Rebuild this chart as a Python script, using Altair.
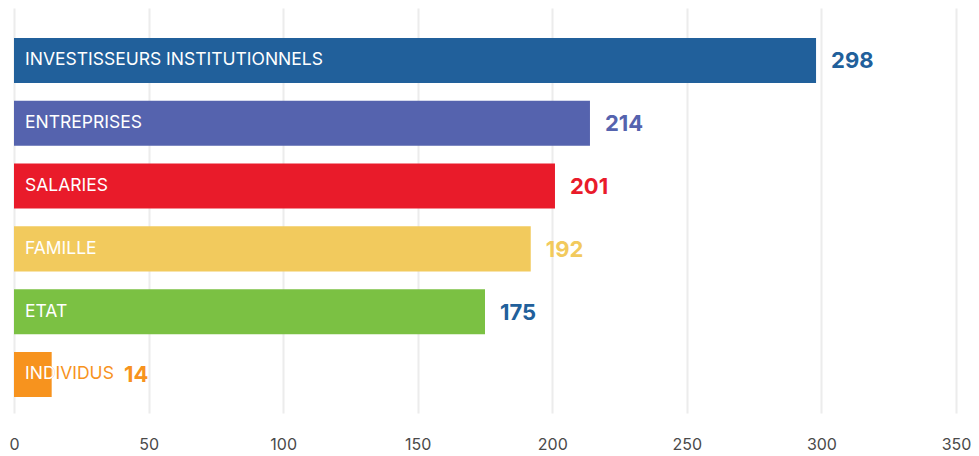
import altair as alt
import pandas as pd

categories = ["INVESTISSEURS INSTITUTIONNELS", "ENTREPRISES", "SALARIES", "FAMILLE", "ETAT", "INDIVIDUS"]
values = [298, 214, 201, 192, 175, 14]
bar_colors = ["#21609b", "#5563ae", "#e91b2a", "#f2ca5d", "#7bc143", "#f7931e"]
value_colors = ["#21609b", "#5563ae", "#e91b2a", "#f2ca5d", "#21609b", "#f7931e"]
label_colors = ["#ffffff", "#ffffff", "#ffffff", "#ffffff", "#ffffff", "#f7931e"]
x_ticks = [0, 50, 100, 150, 200, 250, 300, 350]

W, H = 942, 405
XMAX = 350
px_per_unit = W / XMAX
LABEL_SIZE = 17.5
char_px = 10.1  # approx width of one label character

df = pd.DataFrame({
    "cat": categories,
    "value": values,
    "bar_color": bar_colors,
    "value_color": value_colors,
    "label_color": label_colors,
})
# value label sits after the bar, or just after the category text if that is longer
df["label_end"] = (11 + df["cat"].str.len() * char_px - 7) / px_per_unit
df["vpos"] = [v if lc == "#ffffff" else max(v, le) for v, le, lc in
              zip(df["value"], df["label_end"], df["label_color"])]
df["vtext"] = df["value"].astype(str)


# the part of an overflowing label that lies inside its bar is drawn white
def inside_part(row):
    if row["label_color"] == "#ffffff":
        return ""
    n = int(round((row["value"] * px_per_unit - 11) / char_px))
    return row["cat"][:max(n, 0)]


df["inside"] = df.apply(inside_part, axis=1)

FONT = "Inter"

y = alt.Y("cat:N", sort=categories, axis=None,
          scale=alt.Scale(paddingInner=0.283, paddingOuter=0.366, align=0.652))
xscale = alt.Scale(domain=[0, XMAX], nice=False)

base = alt.Chart(df)

bars = base.mark_bar(cornerRadius=0).encode(
    x=alt.X("value:Q", scale=xscale,
            axis=alt.Axis(values=x_ticks, title=None, grid=True, gridColor="#ececec",
                          gridWidth=2, domain=False, ticks=False, labelPadding=23,
                          labelFontSize=16, labelColor="#4a4a4a", labelFont=FONT,
                          labelFlush=False)),
    y=y,
    color=alt.Color("bar_color:N", scale=None),
)

labels = base.mark_text(align="left", baseline="middle", dx=11, fontSize=LABEL_SIZE, font=FONT).encode(
    x=alt.X("zero:Q", scale=xscale),
    y=y,
    text="cat:N",
    color=alt.Color("label_color:N", scale=None),
).transform_calculate(zero="0")

inside = base.transform_filter("datum.inside != ''").mark_text(
    align="left", baseline="middle", dx=11, fontSize=LABEL_SIZE, font=FONT, color="#ffffff"
).encode(
    x=alt.X("zero:Q", scale=xscale),
    y=y,
    text="inside:N",
).transform_calculate(zero="0")

vals = base.mark_text(align="left", baseline="middle", dx=15, dy=1, fontSize=22, fontWeight=700, font=FONT).encode(
    x=alt.X("vpos:Q", scale=xscale),
    y=y,
    text="vtext:N",
    color=alt.Color("value_color:N", scale=None),
)

chart = alt.layer(bars, labels, inside, vals).properties(
    width=W, height=H,
    autosize=alt.AutoSizeParams(type="none"),
    padding={"left": 6, "right": 15, "top": 0, "bottom": 40},
).configure(background="#ffffff").configure_view(stroke=None)

chart.save("out.html", embed_options={"renderer": "svg", "actions": False})
